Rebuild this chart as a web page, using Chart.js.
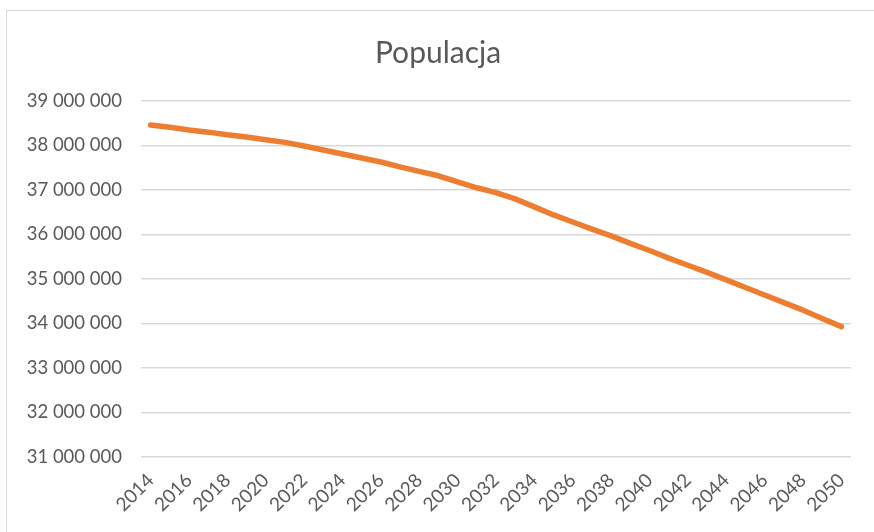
<!DOCTYPE html>
<html>
<head>
<meta charset="utf-8">
<script src="https://cdn.jsdelivr.net/npm/chart.js@4.4.1/dist/chart.umd.min.js"></script>
<style>
    html, body { margin: 0; padding: 0; background: #fff; }
    #wrap { position: relative; width: 874px; height: 532px; overflow: hidden; }
    #frame { position: absolute; left: 6px; top: 10px; width: 880px; height: 600px; border: 1.5px solid #d9d9d9; box-sizing: border-box; }
    #chart { position: absolute; left: 0; top: 0; }
</style>
</head>
<body>
<div id="wrap">
    <div id="frame"></div>
    <canvas id="chart" width="874" height="532"></canvas>
</div>
<script>
// Data
var years = [];
for (var y = 2014; y <= 2050; y++) years.push(String(y));

var population = [
    38460000, 38410000, 38350000, 38300000, 38240000, 38190000, 38130000, 38070000,
    37990000, 37900000, 37810000, 37720000, 37630000, 37520000, 37420000, 37320000,
    37180000, 37050000, 36940000, 36800000, 36620000, 36440000, 36280000, 36120000,
    35970000, 35800000, 35640000, 35470000, 35310000, 35150000, 34980000, 34810000,
    34640000, 34470000, 34300000, 34110000, 33930000
];

var yMin = 31000000;
var yMax = 39000000;
var yStep = 1000000;

var textColor = '#595959';
var fontFamily = 'Lato, "Open Sans", sans-serif';

function spaced(v) {
    return String(v).replace(/\B(?=(\d{3})+(?!\d))/g, ' ');
}

new Chart(document.getElementById('chart'), {
    type: 'line',
    data: {
        labels: years,
        datasets: [{
            label: 'Populacja',
            data: population,
            borderColor: '#ED7D31',
            borderWidth: 5.5,
            borderCapStyle: 'round',
            borderJoinStyle: 'round',
            pointRadius: 0,
            tension: 0,
            fill: false
        }]
    },
    options: {
        responsive: false,
        animation: false,
        layout: { padding: { left: 25, right: 23, top: 0, bottom: 0 } },
        plugins: {
            legend: { display: false },
            tooltip: { enabled: false },
            title: {
                display: true,
                text: 'Populacja',
                color: textColor,
                font: { family: fontFamily, size: 30, weight: 'normal' },
                padding: { top: 35, bottom: 30 }
            }
        },
        scales: {
            x: {
                offset: true,
                grid: { display: false, drawTicks: false },
                border: { display: false },
                ticks: {
                    autoSkip: false,
                    maxRotation: 45,
                    minRotation: 45,
                    padding: 12,
                    color: textColor,
                    font: { family: fontFamily, size: 19 },
                    callback: function (val, i) {
                        return i % 2 === 0 ? years[i] : '';
                    }
                },
                afterFit: function (scale) { scale.height = 75; }
            },
            y: {
                min: yMin,
                max: yMax,
                grid: { color: '#d9d9d9', lineWidth: 1.5, drawTicks: false },
                border: { display: false },
                ticks: {
                    stepSize: yStep,
                    padding: 19,
                    color: textColor,
                    font: { family: fontFamily, size: 18.5 },
                    callback: function (v) { return spaced(v); }
                },
                afterFit: function (scale) { scale.width = 116; }
            }
        }
    }
});
</script>
</body>
</html>
